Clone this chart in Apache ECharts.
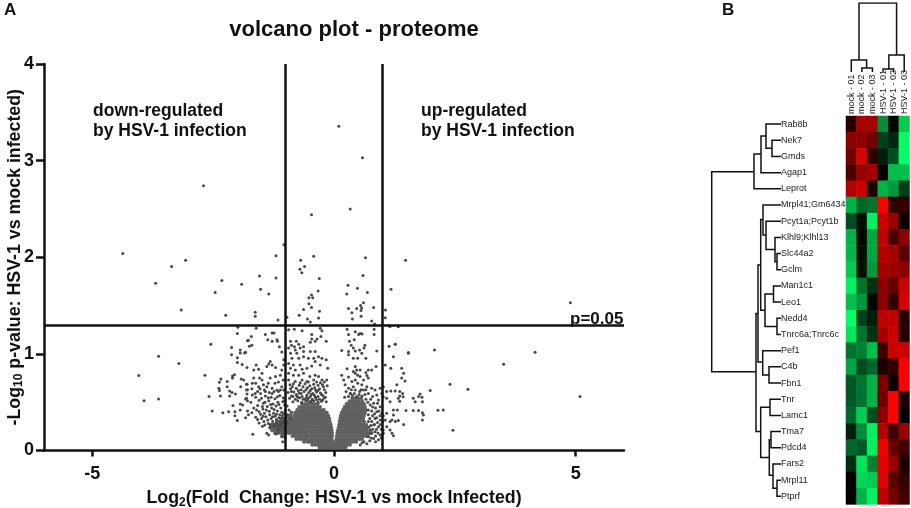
<!DOCTYPE html>
<html>
<head>
<meta charset="utf-8">
<title>volcano plot - proteome</title>
<script src="https://cdn.jsdelivr.net/npm/echarts@6/dist/echarts.min.js"></script>
<style>
  html, body { margin: 0; padding: 0; background: #fff; }
  #main { width: 911px; height: 508px; }
</style>
</head>
<body>
<div id="main"></div>
<script>
var xTicks = [-5, 0, 5];
var yTicks = [0, 1, 2, 3, 4];
var foldLines = [-1, 1];
var pLine = 1.3;

// proteins above p=0.05, [log2 fold change, -log10 p]
var sigPoints = [
  [-2.70,2.74],[-4.37,2.04],[-3.69,1.73],[-3.36,1.905],[-3.07,1.97],[-3.16,1.455],[-2.46,1.635],[-2.32,1.76],
  [-2.24,1.40],[-1.91,1.72],[-1.63,1.43],[-1.63,1.39],[-1.54,1.805],[-1.52,1.67],[-1.35,1.62],[-1.20,2.015],
  [-1.20,1.785],[-1.16,1.35],[-1.035,2.13],[-0.975,1.38],[-0.465,2.44],[-0.42,2.01],[-0.69,1.97],[-0.61,1.905],
  [-0.705,1.875],[-0.665,1.84],[-0.305,1.78],[-0.33,1.65],[-0.465,1.61],[-0.52,1.58],[-0.44,1.58],[-0.52,1.52],
  [-0.63,1.46],[-0.465,1.48],[-0.30,1.44],[-0.72,1.40],[-0.55,1.36],[-0.32,1.37],[-0.49,1.33],
  [0.10,3.355],[0.59,3.03],[0.335,2.50],[0.65,1.995],[1.48,1.97],[0.60,1.81],[0.29,1.71],[0.485,1.68],[0.265,1.62],
  [0.69,1.635],[1.18,1.67],[4.89,1.53],[1.065,1.455],[1.06,1.375],[0.61,1.53],[0.55,1.50],[0.57,1.475],[0.56,1.45],
  [0.30,1.47],[0.47,1.47],[0.82,1.48],[0.37,1.425],[0.56,1.39],[0.38,1.36],[0.78,1.34],[0.84,1.31]
];

// left of the -1 line, below p=0.05
var outerLeft = [
  [-3.63,0.976],[-3.21,0.90],[-4.04,0.775],[-3.93,0.516],[-3.63,0.534],[-2.67,0.78],[-2.55,1.10],[-2.585,0.56],
  [-2.52,0.41],[-2.30,0.39],[-2.18,0.40],[-2.00,1.21],[-2.12,1.065],[-2.12,0.99],[-1.94,1.04],[-1.94,1.01],
  [-1.85,1.01],[-1.77,1.14],[-2.00,0.96],[-1.90,0.89],[-1.80,0.86],[-2.00,0.91],[-2.10,0.772],[-2.06,0.783],
  [-2.10,0.75],[-2.34,0.74],[-2.37,0.706],[-2.21,0.713],[-2.38,0.645],[-2.37,0.62],[-2.21,0.66],[-2.16,0.617],
  [-2.11,0.60],[-2.04,0.585],[-2.35,0.565],[-2.16,0.565],[-1.92,0.74],[-1.87,0.73],[-1.80,0.686],[-1.93,0.66],
  [-1.79,0.63],[-1.80,0.585],[-1.83,0.534],[-1.79,0.514],[-2.09,0.465],[-1.94,0.48],[-1.89,0.47],[-2.05,0.40],
  [-1.94,0.42],[-1.79,0.41],[-2.05,0.36],[-1.83,0.34],[-1.77,0.37],[-2.00,0.31],
  [-1.99,1.276],[-1.61,1.265],[-1.71,1.18],[-1.42,1.20],[-1.28,1.215],[-1.24,1.215],[-1.37,1.145],[-1.28,1.13],
  [-1.18,1.145],[-1.79,1.135],[-1.70,1.09],[-1.75,1.08],[-1.13,1.075],[-1.17,1.13],[-1.83,1.017],[-1.08,1.02],
  [-1.61,0.885],[-1.66,0.834],[-1.56,0.84],[-1.49,0.80],[-1.39,0.87],[-1.32,0.92],[-1.28,0.885],[-1.21,0.86],
  [-1.35,0.896],[-1.04,0.94],[-1.04,0.885],[-1.08,0.834],[-1.66,0.75],[-1.54,0.75],[-1.49,0.73],[-1.32,0.75],
  [-1.21,0.765],[-1.11,0.78],[-1.81,0.685],[-1.69,0.695],[-1.62,0.695],[-1.46,0.68],[-1.36,0.695],[-1.22,0.695],
  [-1.15,0.71],[-1.05,0.73],[-1.81,0.625],[-1.70,0.64],[-1.56,0.66],[-1.39,0.66],[-1.28,0.645],[-1.18,0.627],
  [-1.08,0.66],[-1.81,0.54],[-1.69,0.575],[-1.63,0.59],[-1.52,0.59],[-1.42,0.61],[-1.28,0.59],[-1.15,0.61],[-1.04,0.627],
  [-1.62,0.55],[-1.50,0.54],[-1.42,0.565],[-1.30,0.55],[-1.22,0.535],[-1.12,0.57],[-1.05,0.545],
  [-1.72,0.50],[-1.55,0.52],[-1.46,0.49],[-1.35,0.515],[-1.26,0.48],[-1.16,0.50],[-1.03,0.515],
  [-1.66,0.44],[-1.58,0.465],[-1.47,0.43],[-1.38,0.455],[-1.29,0.44],[-1.20,0.46],[-1.10,0.44],[-1.02,0.47],
  [-1.70,0.39],[-1.55,0.40],[-1.44,0.385],[-1.34,0.405],[-1.25,0.385],[-1.17,0.41],[-1.08,0.395],[-1.01,0.415],
  [-1.62,0.345],[-1.50,0.33],[-1.41,0.35],[-1.30,0.33],[-1.22,0.355],[-1.14,0.34],[-1.07,0.36],[-1.02,0.335],
  [-1.55,0.285],[-1.45,0.30],[-1.36,0.28],[-1.27,0.30],[-1.19,0.285],[-1.12,0.305],[-1.06,0.29],[-1.01,0.31],[-1.15,0.26],
  [-1.48,0.25],[-1.33,0.235],[-1.24,0.25],[-1.17,0.225],[-1.09,0.25],[-1.04,0.23],[-1.01,0.265],[-1.12,0.215],
  [-1.68,0.168],[-1.39,0.178],[-1.35,0.16],[-1.15,0.195],[-1.08,0.143],[-1.20,0.17],[-1.03,0.19],[-1.01,0.13],[-1.06,0.09],
  [-1.60,0.42],[-1.52,0.375],[-1.48,0.455],[-1.40,0.42],[-1.31,0.475],[-1.24,0.425],[-1.14,0.475],[-1.06,0.505],
  [-1.43,0.50],[-1.33,0.37],[-1.19,0.375],[-1.12,0.37],[-1.04,0.38],[-1.58,0.32],[-1.47,0.355],[-1.37,0.315],
  [-1.27,0.35],[-1.19,0.32],[-1.09,0.335],[-1.04,0.30],[-1.43,0.265],[-1.32,0.27],[-1.23,0.27],[-1.10,0.27],
  [-1.53,0.64],[-1.44,0.625],[-1.34,0.60],[-1.24,0.61],[-1.11,0.625],[-1.58,0.61],[-1.36,0.545],[-1.17,0.555]
];

// between the two fold lines, over the dense part
var innerLeft = [
  [-0.94,1.25],[-0.82,1.255],[-0.66,1.24],[-0.285,1.265],[-0.25,1.24],[-0.46,1.20],[-0.35,1.155],[-0.27,1.18],[-0.46,1.155],
  [-0.49,1.12],[-0.39,1.13],[-0.16,1.13],[-0.90,1.13],[-0.78,1.13],[-0.88,1.09],[-0.82,1.075],[-0.73,1.10],[-0.94,1.06],
  [-0.70,1.06],[-0.63,1.075],[-0.80,1.04],[-0.39,1.024],[-0.49,1.024],[-0.63,1.024],[-0.77,1.007],[-0.90,1.007],[-0.87,0.955],
  [-0.73,0.955],[-0.63,0.97],[-0.53,0.955],[-0.42,0.955],[-0.32,0.97],[-0.25,0.955],[-0.16,0.94],[-0.13,0.85],[-0.285,0.885],
  [-0.39,0.92],[-0.94,0.90],[-0.84,0.885],[-0.70,0.885],[-0.90,0.85],[-0.80,0.834],[-0.66,0.84],[-0.56,0.85],[-0.46,0.875],
  [-0.94,0.80],[-0.84,0.78],[-0.73,0.78],[-0.63,0.80],[-0.50,0.765],[-0.39,0.78],[-0.32,0.765],[-0.25,0.73],[-0.15,0.73],
  [-0.42,0.73],[-0.56,0.713],[-0.66,0.73],[-0.80,0.713],[-0.94,0.73],[-0.91,0.68],[-0.84,0.69],[-0.72,0.675],[-0.60,0.69],
  [-0.50,0.67],[-0.42,0.685],[-0.33,0.675],[-0.24,0.68],[-0.14,0.67],[-0.90,0.64],[-0.78,0.645],[-0.68,0.63],[-0.55,0.65],
  [-0.46,0.64],[-0.38,0.625],[-0.30,0.64],[-0.20,0.63],[-0.95,0.60],[-0.83,0.605],[-0.72,0.595],[-0.62,0.61],[-0.52,0.60],
  [-0.44,0.59],[-0.36,0.605],[-0.28,0.595],[-0.17,0.60],[-0.88,0.565],[-0.77,0.57],[-0.66,0.56],[-0.56,0.575],[-0.49,0.56],
  [-0.41,0.575],[-0.33,0.56],[-0.23,0.57],[-0.18,0.55],[-0.92,0.54],[-0.80,0.53],[-0.71,0.545],[-0.60,0.53],[-0.53,0.54],
  [-0.45,0.53],[-0.38,0.545],[-0.30,0.53],[-0.21,0.54],[-0.85,0.505],[-0.75,0.515],[-0.67,0.50],[-0.58,0.515],[-0.50,0.505],
  [-0.42,0.515],[-0.33,0.50],[-0.26,0.51],[-0.16,0.505],[-0.97,0.46],[-0.93,0.42],[-0.96,0.37],[-0.91,0.33],[-0.98,0.29],
  [-0.86,0.66],[-0.74,0.62],[-0.64,0.66],[-0.58,0.63],[-0.49,0.62],[-0.40,0.65],[-0.33,0.62],[-0.22,0.66],[-0.88,0.61],
  [-0.78,0.58],[-0.68,0.59],[-0.57,0.55],[-0.47,0.58],[-0.39,0.56],[-0.26,0.58],[-0.85,0.56],[-0.75,0.55],[-0.64,0.53],
  [-0.55,0.52],[-0.47,0.51],[-0.36,0.525],[-0.24,0.52],[-0.70,0.70],[-0.53,0.71],[-0.36,0.71],[-0.28,0.70],[-0.20,0.71]
];

// right side, inside the +1 line and past it
var innerRight = [
  [0.27,1.255],[0.44,1.23],[0.54,1.21],[0.51,1.20],[0.58,1.205],[0.83,1.255],[0.83,1.20],[0.30,1.20],[0.32,1.13],[0.42,1.145],
  [0.64,1.09],[0.355,1.09],[0.40,1.06],[0.30,1.024],[0.16,1.034],[0.44,1.03],[0.53,1.04],[0.62,1.06],[0.885,1.03],[0.575,1.007],
  [0.30,0.99],[0.40,0.955],[0.49,0.955],[0.66,0.955],[0.87,0.87],[0.27,0.845],[0.44,0.87],[0.47,0.834],[0.40,0.817],[0.54,0.834],
  [0.71,0.834],[0.66,0.807],[0.78,0.834],[0.68,0.775],[0.44,0.80],[0.49,0.78],[0.16,0.78],[0.20,0.73],[0.30,0.76],[0.37,0.713],
  [0.54,0.765],[0.61,0.73],[0.71,0.75],[0.44,0.73],[0.49,0.695],[0.23,0.68],[0.30,0.645],[0.40,0.66],[0.575,0.68],[0.68,0.66],
  [0.78,0.645],[0.85,0.627],[0.955,0.645],[0.25,0.61],[0.335,0.59],[0.44,0.627],[0.53,0.61],[0.61,0.627],[0.71,0.59],[0.80,0.558],
  [0.885,0.575],[0.99,0.59],[0.92,0.523],[0.82,0.49],[0.955,0.454],[0.885,0.40],[0.99,0.385],[0.75,0.47],[0.71,0.42],[0.71,0.37],
  [0.85,0.33],[0.955,0.316],[0.71,0.30],[0.82,0.264],[0.92,0.247],[0.75,0.212],[0.85,0.195],[0.955,0.16],[0.71,0.143],[0.82,0.125],
  [0.92,0.11],[0.68,0.07],[0.54,0.056],[0.38,0.57],[0.47,0.56],[0.58,0.565],[0.30,0.56],[0.66,0.53],[0.76,0.53],[0.90,0.49],
  [0.78,0.41],[0.80,0.36],[0.90,0.29],[0.76,0.26],[0.88,0.22],[0.76,0.18],[0.72,0.24],[0.74,0.33],
  [0.70,0.50],[0.80,0.45],[0.86,0.44],[0.93,0.41],[0.84,0.38],[0.95,0.36],[0.88,0.34],[0.78,0.30],[0.96,0.27],[0.84,0.27],
  [0.98,0.22],[0.91,0.18],[0.80,0.22],[0.98,0.13],[0.86,0.15],[0.77,0.13],[0.62,0.09],[0.74,0.10],[0.86,0.09],[0.58,0.08],
  [0.34,0.59],[0.42,0.59],[0.52,0.58],[0.64,0.58],[0.22,0.55],[0.56,0.63],[0.36,0.63],[0.66,0.63]
];

var outerRight = [
  [1.14,1.29],[1.33,1.29],[1.14,1.08],[1.27,1.10],[1.23,0.97],[1.54,1.007],[2.08,1.04],[4.16,1.017],[1.16,1.283],[1.33,1.28],
  [1.265,1.10],[1.54,1.014],[1.06,0.885],[1.175,0.85],[1.40,0.85],[1.44,0.80],[1.40,0.75],[1.47,0.72],[1.30,0.68],[1.02,0.66],
  [1.09,0.61],[1.175,0.617],[1.265,0.617],[1.36,0.61],[1.42,0.59],[1.36,0.565],[1.43,0.555],[1.33,0.54],[1.36,0.51],[1.09,0.54],
  [1.02,0.555],[1.16,0.505],[1.99,0.62],[1.78,0.585],[1.75,0.558],[1.82,0.55],[1.64,0.54],[1.68,0.505],[1.83,0.505],[2.40,0.685],
  [3.51,0.893],[2.77,0.634],[5.09,0.56],[2.15,0.416],[2.26,0.42],[2.46,0.21],[1.64,0.413],[1.75,0.413],[1.83,0.39],[1.85,0.368],
  [1.83,0.316],[1.23,0.42],[1.31,0.42],[1.49,0.413],[1.09,0.385],[1.23,0.367],[1.20,0.316],[1.06,0.316],[1.16,0.30],[1.27,0.30],
  [1.33,0.31],[1.44,0.27],[1.09,0.247],[1.02,0.212],[1.16,0.212],[1.20,0.178],[1.23,0.153],[1.02,0.178],[1.01,0.30],[1.02,0.36]
];

// the solid mass of the volcano, one row per height: [y, x, x, ...]
var coreLeftRows = [
  [0.03,-0.30,-0.24,-0.19,-0.13,-0.07,-0.02],
  [0.06,-0.45,-0.39,-0.33,-0.27,-0.21,-0.15,-0.09,-0.03],
  [0.09,-0.62,-0.55,-0.50,-0.44,-0.37,-0.32,-0.25,-0.20,-0.14,-0.08,-0.03],
  [0.12,-0.78,-0.71,-0.66,-0.59,-0.54,-0.47,-0.41,-0.36,-0.29,-0.24,-0.17,-0.11,-0.05],
  [0.15,-1.07,-1.02,-0.86,-0.80,-0.74,-0.68,-0.62,-0.56,-0.50,-0.44,-0.38,-0.32,-0.26,-0.20,-0.14,-0.08,-0.04],
  [0.18,-1.22,-1.16,-1.10,-1.05,-0.99,-0.92,-0.85,-0.80,-0.73,-0.67,-0.61,-0.56,-0.49,-0.43,-0.37,-0.31,-0.25,-0.19,-0.13,-0.07,-0.04],
  [0.21,-1.28,-1.22,-1.16,-1.10,-1.04,-0.99,-0.94,-0.88,-0.82,-0.76,-0.70,-0.64,-0.58,-0.52,-0.46,-0.40,-0.34,-0.28,-0.22,-0.16,-0.10,-0.05],
  [0.24,-1.31,-1.25,-1.19,-1.13,-1.07,-1.00,-0.94,-0.87,-0.81,-0.75,-0.69,-0.63,-0.57,-0.51,-0.45,-0.39,-0.33,-0.27,-0.21,-0.15,-0.09,-0.06],
  [0.27,-1.27,-1.21,-1.15,-1.09,-1.03,-0.98,-0.92,-0.86,-0.80,-0.74,-0.68,-0.62,-0.56,-0.50,-0.44,-0.38,-0.32,-0.26,-0.20,-0.14,-0.07],
  [0.30,-1.18,-1.12,-1.06,-1.00,-0.94,-0.88,-0.82,-0.76,-0.70,-0.64,-0.58,-0.52,-0.46,-0.40,-0.34,-0.28,-0.22,-0.16,-0.09],
  [0.33,-1.08,-1.03,-0.97,-0.92,-0.86,-0.79,-0.73,-0.67,-0.61,-0.55,-0.49,-0.43,-0.37,-0.31,-0.25,-0.19,-0.13,-0.10],
  [0.36,-0.96,-0.90,-0.82,-0.76,-0.70,-0.64,-0.58,-0.52,-0.46,-0.40,-0.34,-0.28,-0.22,-0.16,-0.12],
  [0.39,-0.88,-0.80,-0.73,-0.67,-0.61,-0.55,-0.49,-0.43,-0.37,-0.31,-0.25,-0.19,-0.15],
  [0.42,-0.76,-0.69,-0.63,-0.57,-0.51,-0.45,-0.39,-0.33,-0.27,-0.21],
  [0.45,-0.72,-0.65,-0.59,-0.53,-0.47,-0.41,-0.35,-0.29],
  [0.48,-0.66,-0.60,-0.54,-0.47,-0.41,-0.34]
];
var coreRightRows = [
  [0.03,0.02,0.07,0.13,0.18,0.24],
  [0.06,0.03,0.09,0.15,0.21,0.27,0.33],
  [0.09,0.04,0.10,0.16,0.22,0.28,0.34,0.40,0.46],
  [0.12,0.05,0.11,0.17,0.23,0.29,0.35,0.41,0.47,0.53,0.58],
  [0.15,0.06,0.12,0.18,0.24,0.30,0.36,0.42,0.48,0.54,0.60,0.66,0.70],
  [0.18,0.07,0.13,0.19,0.25,0.31,0.37,0.43,0.49,0.55,0.61,0.67,0.73,0.78],
  [0.21,0.08,0.14,0.20,0.26,0.32,0.38,0.44,0.50,0.56,0.62,0.68],
  [0.24,0.10,0.16,0.22,0.28,0.34,0.40,0.46,0.52,0.58,0.64,0.68],
  [0.27,0.11,0.17,0.23,0.29,0.35,0.41,0.47,0.53,0.59,0.66],
  [0.30,0.12,0.18,0.24,0.30,0.36,0.42,0.48,0.54,0.62],
  [0.33,0.13,0.19,0.25,0.31,0.37,0.43,0.49,0.55,0.60],
  [0.36,0.14,0.20,0.26,0.32,0.38,0.44,0.50,0.56,0.62],
  [0.39,0.16,0.22,0.28,0.34,0.40,0.46,0.52,0.58,0.64],
  [0.42,0.19,0.25,0.31,0.37,0.43,0.49,0.55,0.61,0.66],
  [0.45,0.22,0.28,0.34,0.40,0.46,0.52,0.58,0.64],
  [0.48,0.26,0.32,0.38,0.44,0.50,0.56,0.62],
  [0.51,0.32,0.38,0.44,0.50,0.58],
  [0.54,0.38,0.44,0.50,0.56]
];

// panel B
var proteins = ['Rab8b','Nek7','Gmds','Agap1','Leprot','Mrpl41;Gm6434','Pcyt1a;Pcyt1b','Klhl9;Klhl13','Slc44a2','Gclm',
  'Man1c1','Leo1','Nedd4','Tnrc6a;Tnrc6c','Pef1','C4b','Fbn1','Tnr','Lamc1','Tma7','Pdcd4','Fars2','Mrpl11','Ptprf'];
var samples = ['mock - 01','mock - 02','mock - 03','HSV-1 - 01','HSV-1 - 02','HSV-1 - 03'];
var heatValues = [
  [0.15,0.65,0.65,-0.55,-0.03,-0.80],
  [0.55,0.55,0.45,-0.25,-0.15,-1.00],
  [0.45,0.85,0.20,-0.12,-0.30,-1.00],
  [0.30,0.60,0.65,0.00,-0.75,-0.75],
  [0.70,0.80,0.12,-0.70,-0.60,-0.25],
  [-0.70,-0.40,-0.45,1.00,0.20,0.20],
  [-0.30,-0.05,-0.95,0.80,0.60,0.05],
  [-0.70,-0.02,-0.65,0.75,0.30,0.55],
  [-0.72,-0.05,-0.65,0.70,0.65,0.35],
  [-0.80,-0.07,-0.60,0.65,0.60,0.55],
  [-0.95,-0.45,-0.20,0.55,0.40,0.80],
  [-0.75,-0.60,-0.03,0.55,0.20,0.85],
  [-1.00,-0.25,-0.12,0.75,0.75,0.15],
  [-0.90,-0.45,-0.20,0.65,0.80,0.15],
  [-0.45,-0.50,-0.75,0.25,0.80,0.80],
  [-0.65,-0.30,-0.40,0.12,0.20,1.00],
  [-0.35,-0.45,-0.70,0.50,0.05,1.00],
  [-0.35,-0.45,-0.70,0.45,1.00,0.10],
  [-0.40,-0.80,-0.30,0.55,1.00,0.00],
  [-0.12,-0.55,-0.95,0.70,0.25,0.60],
  [-0.40,-0.35,-0.95,0.95,0.40,0.25],
  [-0.18,-0.90,-0.50,0.90,0.60,0.10],
  [0.00,-0.85,-0.80,0.90,0.35,0.20],
  [0.00,-0.70,-0.95,0.75,0.45,0.25]
];

// dendrogram merges: [merge height, top/left position, its height, bottom/right position, its height]
var rowMerges = [
  [9,1.5,0,2.5,0],[15,0.5,0,2.0,9],[20,1.24,15,3.5,0],[27,2.35,20,4.5,0],
  [4,8.5,0,9.5,0],[6,7.5,0,9.0,4],[15,6.5,0,8.25,6],[18,5.5,0,7.35,15],
  [7.5,10.5,0,11.5,0],[4,12.5,0,13.5,0],[16,11.0,7.5,13.0,4],[20.3,6.4,18,12.0,16],
  [12,15.5,0,16.5,0],[18.3,14.5,0,16.0,12],[23,9.2,20.3,15.2,18.3],
  [11,17.5,0,18.5,0],[10,19.5,0,20.5,0],[4,22.5,0,23.5,0],[8,21.5,0,23.0,4],[11.7,20.0,10,22.2,8],
  [20.3,18.0,11,21.1,11.7],[25,12.2,23,19.5,20.3],[69.3,3.45,27,15.8,25]
];
var colMerges = [
  [4,1.5,0,2.5,0],[12,0.5,0,1.95,4],[3,3.5,0,4.5,0],[17,4.05,3,5.5,0],[69,1.23,12,4.78,17]
];

function rowsToPoints(rows) {
  var points = [];
  rows.forEach(function (row) {
    for (var i = 1; i < row.length; i++) {
      points.push([row[i], row[0]]);
    }
  });
  return points;
}

var heatData = [];
heatValues.forEach(function (row, r) {
  row.forEach(function (v, c) {
    heatData.push([c, r, v]);
  });
});

var rowLinks = rowMerges.map(function (m) {
  return { coords: [[m[2], m[1]], [m[0], m[1]], [m[0], m[3]], [m[4], m[3]]] };
});
var colLinks = colMerges.map(function (m) {
  return { coords: [[m[1], m[2]], [m[1], m[0]], [m[3], m[0]], [m[3], m[4]]] };
});

var font = 'Liberation Sans, Arial, sans-serif';
var ink = '#111';

function boldText(left, top, text, size) {
  return {
    type: 'text', left: left, top: top,
    style: { text: text, fontFamily: font, fontWeight: 'bold', fontSize: size, lineHeight: 20, fill: ink }
  };
}

var chart = echarts.init(document.getElementById('main'));
chart.setOption({
  animation: false,
  backgroundColor: '#fff',
  title: {
    text: 'volcano plot - proteome',
    left: 349, top: 14, textAlign: 'center',
    textStyle: { fontFamily: font, fontWeight: 'bold', fontSize: 22, color: ink }
  },
  graphic: [
    boldText(4, 0, 'A', 17),
    boldText(722, 0, 'B', 17),
    boldText(93, 101, 'down-regulated\nby HSV-1 infection', 17.5),
    boldText(421, 101, 'up-regulated\nby HSV-1 infection', 17.5),
    boldText(570, 309, 'p=0.05', 17)
  ],
  grid: [
    { left: 44, top: 64, width: 580, height: 386.5, outerBoundsMode: 'none' },
    { left: 846, top: 116, width: 63.5, height: 388.4, outerBoundsMode: 'none' },
    { left: 700, top: 116, width: 81, height: 388.4, outerBoundsMode: 'none' },
    { left: 846, top: 3, width: 63.5, height: 69, outerBoundsMode: 'none' }
  ],
  xAxis: [
    {
      gridIndex: 0, type: 'value', min: -6, max: 6,
      splitLine: { show: false },
      axisLine: { onZero: false, lineStyle: { color: ink, width: 2.5 } },
      axisTick: { length: 6, customValues: xTicks, lineStyle: { color: ink, width: 2.5 } },
      axisLabel: { customValues: xTicks, margin: 15, fontFamily: font, fontWeight: 'bold', fontSize: 18, color: ink },
      name: 'Log{sub|2}(Fold  Change: HSV-1 vs mock Infected)',
      nameLocation: 'middle', nameGap: 38, nameMoveOverlap: false,
      nameTextStyle: {
        fontFamily: font, fontWeight: 'bold', fontSize: 17.8, color: ink,
        rich: { sub: { fontFamily: font, fontWeight: 'bold', fontSize: 12, color: ink, verticalAlign: 'bottom', lineHeight: 20 } }
      }
    },
    {
      gridIndex: 1, type: 'category', data: samples, position: 'top',
      axisLine: { show: false }, axisTick: { show: false }, splitLine: { show: false },
      axisLabel: { interval: 0, rotate: -90, margin: 2, fontFamily: font, fontSize: 9, color: '#222' }
    },
    { gridIndex: 2, type: 'value', min: 0, max: 81, inverse: true, show: false },
    { gridIndex: 3, type: 'value', min: 0, max: 6, show: false }
  ],
  yAxis: [
    {
      gridIndex: 0, type: 'value', min: 0, max: 4, interval: 1,
      splitLine: { show: false },
      axisLine: { show: true, onZero: false, lineStyle: { color: ink, width: 2.5 } },
      axisTick: { show: true, length: 8, customValues: yTicks, lineStyle: { color: ink, width: 2.5 } },
      axisLabel: { customValues: yTicks, margin: 10, fontFamily: font, fontWeight: 'bold', fontSize: 18, color: ink },
      name: '-Log{sub|10} p-value: HSV-1 vs mock infected)',
      nameLocation: 'middle', nameGap: 19, nameMoveOverlap: false,
      nameTextStyle: {
        fontFamily: font, fontWeight: 'bold', fontSize: 17.8, color: ink,
        rich: { sub: { fontFamily: font, fontWeight: 'bold', fontSize: 12, color: ink, verticalAlign: 'bottom', lineHeight: 20 } }
      }
    },
    {
      gridIndex: 1, type: 'category', data: proteins, inverse: true,
      axisLine: { show: false }, axisTick: { show: false }, splitLine: { show: false },
      axisLabel: { interval: 0, align: 'left', margin: 65, fontFamily: font, fontSize: 9, color: '#222' }
    },
    { gridIndex: 2, type: 'value', min: 0, max: 24, inverse: true, show: false },
    { gridIndex: 3, type: 'value', min: 0, max: 69, show: false }
  ],
  visualMap: {
    show: false, seriesIndex: 2, min: -1, max: 1,
    inRange: { color: ['#00ff66', '#000000', '#ff0000'] }
  },
  series: [
    {
      type: 'scatter', xAxisIndex: 0, yAxisIndex: 0, symbolSize: 4, silent: true,
      itemStyle: { color: '#606060', opacity: 1 },
      data: rowsToPoints(coreLeftRows).concat(rowsToPoints(coreRightRows))
    },
    {
      type: 'scatter', xAxisIndex: 0, yAxisIndex: 0, symbolSize: 3, silent: true,
      itemStyle: { color: '#484848', opacity: 1 },
      data: sigPoints.concat(outerLeft, innerLeft, innerRight, outerRight),
      markLine: {
        silent: true, symbol: 'none', animation: false, label: { show: false },
        lineStyle: { color: ink, width: 2.5, type: 'solid' },
        data: [{ xAxis: foldLines[0] }, { xAxis: foldLines[1] }, { yAxis: pLine }]
      }
    },
    {
      type: 'heatmap', xAxisIndex: 1, yAxisIndex: 1, silent: true,
      data: heatData
    },
    {
      type: 'lines', coordinateSystem: 'cartesian2d', xAxisIndex: 2, yAxisIndex: 2, polyline: true, silent: true,
      lineStyle: { color: '#111', width: 1.5, opacity: 1 },
      data: rowLinks
    },
    {
      type: 'lines', coordinateSystem: 'cartesian2d', xAxisIndex: 3, yAxisIndex: 3, polyline: true, silent: true,
      lineStyle: { color: '#111', width: 1.5, opacity: 1 },
      data: colLinks
    }
  ]
});
</script>
</body>
</html>
